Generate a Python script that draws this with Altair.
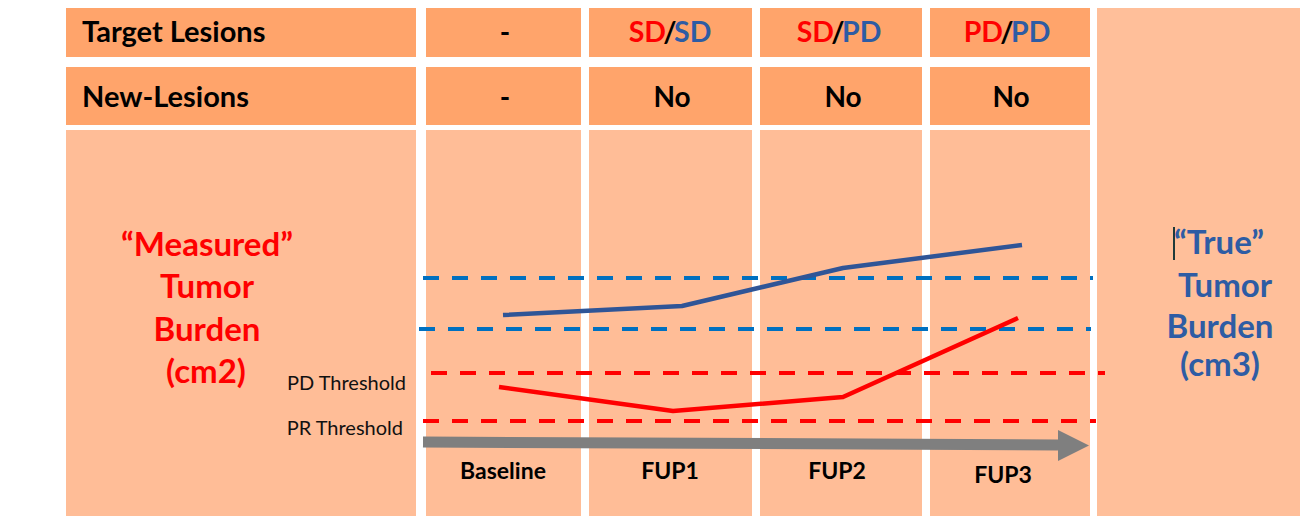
import altair as alt
import pandas as pd

# ---- layout frame (diagram coordinates, 1308 x 524 canvas, y grows downward) ----
col_left = [66, 426, 589, 760, 930]
col_right = [416, 581, 752, 922, 1090]
row_top = [1, 67, 130]
row_bottom = [57, 125, 523]
row_fill = ["#FFA46B", "#FFA46B", "#FFBD97"]
panel_x = [1097, 1308]
panel_y = [0, 524]
panel_fill = "#FFBF9A"

# ---- time points ----
timepoints = ["Baseline", "FUP1", "FUP2", "FUP3"]
time_x = [503, 670, 837, 1003]
time_label_y = [479, 479, 479, 483]

# ---- tumour burden curves (diagram units) ----
measured_x = [499, 673, 843, 1018]
measured_burden = [387, 411, 397, 318]
true_x = [503, 682, 843, 1022]
true_burden = [315, 306, 268, 245]

# ---- thresholds ----
threshold_names = ["True PD", "True PR", "PD Threshold", "PR Threshold"]
threshold_level = [278, 329, 373, 421]
threshold_x0 = [423, 419, 431, 423]
threshold_x1 = [1093, 1091, 1105, 1096]
threshold_color = ["#0070C0", "#0070C0", "#FF0000", "#FF0000"]

# ---- time arrow ----
arrow_x = [423, 1058]
arrow_y = [442, 445]
arrow_tip_x = 1089

# ---- table texts ----
row_headers = ["Target Lesions", "New-Lesions"]
row_header_x = 82
row_baseline = [42, 107]
baseline_cell = "-"
baseline_cell_x = 505
target_measured = ["SD", "SD", "PD"]
target_true = ["SD", "PD", "PD"]
target_slash_x = [670, 838, 1007]
new_lesions = ["No", "No", "No"]
new_lesions_x = [672, 843, 1011]

measured_title = ["\u201cMeasured\u201d", "Tumor", "Burden", "(cm2)"]
measured_title_x = [207, 207, 207, 206]
measured_title_y = [256, 298, 341, 383]
true_title = ["\u201cTrue\u201d", "Tumor", "Burden", "(cm3)"]
true_title_x = [1219, 1225, 1220, 1220]
true_title_y = [254, 297, 338, 376]

RED = "#FF0000"
BLUE_TXT = "#2E5CA4"
BLUE_LINE = "#2F5597"
GREY = "#7F7F7F"
FONT = "Lato"

X = lambda f: alt.X(f, type="quantitative",
                    scale=alt.Scale(domain=[8, 1300], nice=False, zero=False), axis=None)
Y = lambda f: alt.Y(f, type="quantitative",
                    scale=alt.Scale(domain=[8, 516], nice=False, zero=False, reverse=True), axis=None)

# cells
cells = []
for r in range(3):
    for c in range(5):
        cells.append(dict(x=col_left[c], x2=col_right[c], y=row_top[r], y2=row_bottom[r], fill=row_fill[r]))
cells.append(dict(x=panel_x[0], x2=panel_x[1], y=panel_y[0], y2=panel_y[1], fill=panel_fill))
cells_df = pd.DataFrame(cells)
cell_layer = alt.Chart(cells_df).mark_rect(strokeWidth=0).encode(
    x=X("x"), x2="x2", y=Y("y"), y2="y2", color=alt.Color("fill:N", scale=None))

# thresholds
thr_df = pd.DataFrame(dict(name=threshold_names, x=threshold_x0, x2=threshold_x1,
                           y=threshold_level, color=threshold_color))
thr_layer = alt.Chart(thr_df).mark_rule(strokeWidth=4, strokeDash=[16, 13], strokeCap="butt").encode(
    x=X("x"), x2="x2", y=Y("y"), color=alt.Color("color:N", scale=None))

# arrow
arrow_df = pd.DataFrame(dict(x=[arrow_x[0]], x2=[arrow_x[1]], y=[arrow_y[0]], y2=[arrow_y[1]]))
arrow_body = alt.Chart(arrow_df).mark_rule(strokeWidth=11, color=GREY, strokeCap="butt").encode(
    x=X("x"), x2="x2", y=Y("y"), y2="y2")
head_df = pd.DataFrame(dict(x=[(arrow_x[1] + arrow_tip_x) / 2], y=[arrow_y[1] + 0.5]))
arrow_head = alt.Chart(head_df).mark_point(
    shape="M-1,-1L1,0L-1,1Z", filled=True, size=(arrow_tip_x - arrow_x[1]) ** 2,
    color=GREY, opacity=1, strokeWidth=0).encode(x=X("x"), y=Y("y"))

# curves
curve_df = pd.DataFrame(dict(
    series=["Measured"] * 4 + ["True"] * 4,
    time=timepoints * 2,
    order=list(range(4)) * 2,
    x=measured_x + true_x,
    burden=measured_burden + true_burden))
curves = alt.Chart(curve_df).mark_line(strokeWidth=4.5, strokeCap="butt", strokeJoin="round").encode(
    x=X("x"), y=Y("burden"), order="order:Q",
    color=alt.Color("series:N", scale=alt.Scale(domain=["Measured", "True"], range=[RED, BLUE_LINE]), legend=None))

# cursor artefact
cursor_df = pd.DataFrame(dict(x=[1174], y=[227], y2=[260]))
cursor = alt.Chart(cursor_df).mark_rule(strokeWidth=2, color="#1F3A3A").encode(x=X("x"), y=Y("y"), y2="y2")


def text_layer(df, size, weight="bold", align="center"):
    return alt.Chart(df).mark_text(font=FONT, fontSize=size, fontWeight=weight, align=align,
                                   baseline="alphabetic").encode(
        x=X("x"), y=Y("y"), text="text:N", color=alt.Color("color:N", scale=None))


hdr_df = pd.DataFrame(dict(text=row_headers, x=[row_header_x] * 2, y=row_baseline, color=["#000000"] * 2))
dash_df = pd.DataFrame(dict(text=[baseline_cell] * 2, x=[baseline_cell_x] * 2, y=row_baseline, color=["#000000"] * 2))
slash_df = pd.DataFrame(dict(text=["/"] * 3, x=target_slash_x, y=[row_baseline[0]] * 3, color=["#000000"] * 3))
left_df = pd.DataFrame(dict(text=target_measured, x=[s - 4 for s in target_slash_x],
                            y=[row_baseline[0]] * 3, color=[RED] * 3))
right_df = pd.DataFrame(dict(text=target_true, x=[s + 4 for s in target_slash_x],
                             y=[row_baseline[0]] * 3, color=[BLUE_TXT] * 3))
no_df = pd.DataFrame(dict(text=new_lesions, x=new_lesions_x, y=[row_baseline[1]] * 3, color=["#000000"] * 3))
meas_df = pd.DataFrame(dict(text=measured_title, x=measured_title_x, y=measured_title_y, color=[RED] * 4))
true_df = pd.DataFrame(dict(text=true_title, x=true_title_x, y=true_title_y, color=[BLUE_TXT] * 4))
thr_lab_df = pd.DataFrame(dict(text=["PD Threshold", "PR Threshold"], x=[406, 403], y=[390, 435],
                               color=["#111111"] * 2))
time_df = pd.DataFrame(dict(text=timepoints, x=time_x, y=time_label_y, color=["#000000"] * 4))

chart = alt.layer(
    cell_layer, thr_layer, arrow_body, arrow_head, curves, cursor,
    text_layer(hdr_df, 29, align="left"),
    text_layer(dash_df, 28),
    text_layer(slash_df, 28.5),
    text_layer(left_df, 28.5, align="right"),
    text_layer(right_df, 28.5, align="left"),
    text_layer(no_df, 28),
    text_layer(meas_df, 33),
    text_layer(true_df, 33),
    text_layer(thr_lab_df, 20, weight="normal", align="right"),
    text_layer(time_df, 23),
).properties(width=1292, height=508, padding=0,
             autosize=alt.AutoSizeParams(type="none")).configure_view(stroke=None)

chart.save("out.html", embed_options={"renderer": "svg", "actions": False})
